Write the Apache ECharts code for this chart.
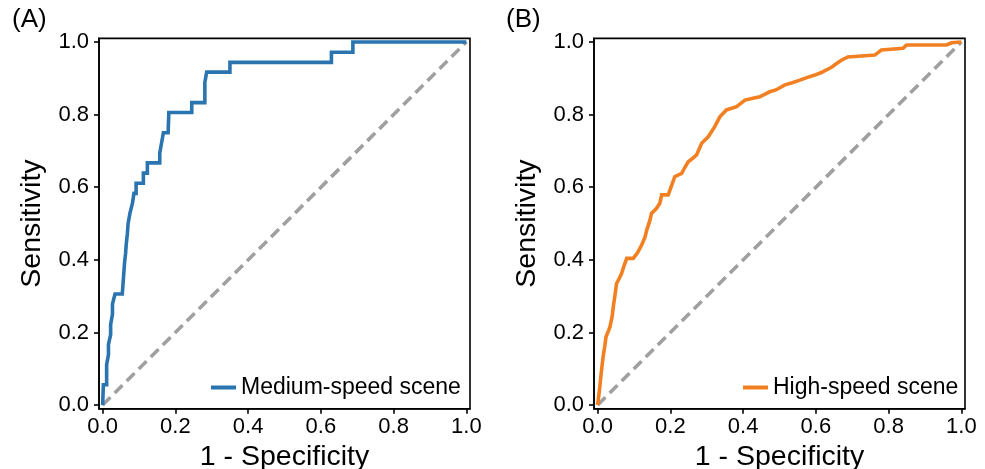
<!DOCTYPE html>
<html>
<head>
<meta charset="utf-8">
<script src="https://cdn.jsdelivr.net/npm/echarts@6/dist/echarts.min.js"></script>
<style>
  html, body { margin: 0; padding: 0; background: #fff; }
  #rocChart { width: 985px; height: 469px; }
</style>
</head>
<body>
<div id="rocChart"></div>
<script>
// tick labels shared by both panels
var tickValues = [0, 0.2, 0.4, 0.6, 0.8, 1.0];

// (A) medium-speed scene ROC points
var fprA = [0, 0.002, 0.011, 0.011, 0.016, 0.016, 0.022, 0.022, 0.027, 0.027, 0.034, 0.054,
  0.056, 0.058, 0.060, 0.063, 0.065, 0.068, 0.070, 0.075, 0.080, 0.082, 0.086, 0.092,
  0.092, 0.112, 0.112, 0.123, 0.123, 0.157, 0.157, 0.162, 0.162, 0.167, 0.167, 0.180,
  0.182, 0.245, 0.245, 0.281, 0.281, 0.286, 0.286, 0.350, 0.350, 0.629, 0.629, 0.688,
  0.688, 1.0];
var tprA = [0, 0.056, 0.056, 0.111, 0.139, 0.167, 0.194, 0.222, 0.250, 0.278, 0.306, 0.306,
  0.333, 0.361, 0.389, 0.417, 0.444, 0.472, 0.500, 0.528, 0.528, 0.556, 0.583, 0.583,
  0.611, 0.611, 0.639, 0.639, 0.667, 0.667, 0.694, 0.694, 0.722, 0.722, 0.750, 0.750,
  0.806, 0.806, 0.833, 0.833, 0.889, 0.889, 0.917, 0.917, 0.944, 0.944, 0.972, 0.972,
  1.0, 1.0];

// (B) high-speed scene ROC points
var fprB = [0, 0.003, 0.006, 0.010, 0.015, 0.020, 0.023, 0.030, 0.034, 0.040, 0.043, 0.048,
  0.052, 0.060, 0.066, 0.073, 0.080, 0.098, 0.110, 0.121, 0.130, 0.135, 0.144, 0.148,
  0.162, 0.171, 0.176, 0.194, 0.203, 0.212, 0.231, 0.240, 0.249, 0.262, 0.272, 0.286,
  0.295, 0.304, 0.322, 0.336, 0.354, 0.382, 0.405, 0.427, 0.446, 0.455, 0.473, 0.490,
  0.515, 0.535, 0.556, 0.575, 0.597, 0.615, 0.629, 0.645, 0.657, 0.670, 0.688, 0.762,
  0.780, 0.840, 0.849, 0.959, 0.973, 1.0];
var tprB = [0, 0.025, 0.050, 0.090, 0.133, 0.165, 0.188, 0.205, 0.216, 0.245, 0.271, 0.305,
  0.335, 0.350, 0.363, 0.385, 0.404, 0.404, 0.420, 0.441, 0.462, 0.482, 0.510, 0.528,
  0.542, 0.556, 0.579, 0.579, 0.604, 0.629, 0.638, 0.655, 0.670, 0.680, 0.689, 0.721,
  0.730, 0.739, 0.767, 0.794, 0.813, 0.822, 0.840, 0.845, 0.849, 0.854, 0.863, 0.868,
  0.882, 0.888, 0.895, 0.902, 0.909, 0.916, 0.923, 0.932, 0.941, 0.950, 0.959, 0.964,
  0.978, 0.983, 0.992, 0.992, 0.998, 1.0];

// chance line
var chanceX = [0, 1];
var chanceY = [0, 1];

var FONT = "'Liberation Sans', Arial, sans-serif";

function zip(xs, ys) {
  var out = [];
  for (var i = 0; i < xs.length; i++) out.push([xs[i], ys[i]]);
  return out;
}

function makeAxis(idx, name, isX) {
  var ax = {
    type: 'value',
    gridIndex: idx,
    min: -0.01,
    max: 1.01,
    name: name,
    nameLocation: 'middle',
    nameGap: isX ? 33 : 52,
    nameTextStyle: { color: '#000', fontSize: 28.5, fontFamily: FONT },
    axisLine: { show: true, onZero: false, lineStyle: { color: '#000', width: 1.6 } },
    axisTick: { show: true, length: 5, customValues: tickValues, lineStyle: { color: '#000', width: 1.6 } },
    axisLabel: {
      customValues: tickValues,
      margin: isX ? 7 : 10,
      color: '#000',
      fontSize: 22,
      fontFamily: FONT,
      formatter: function (v) { return v.toFixed(1); }
    },
    splitLine: { show: false }
  };
  return ax;
}

function rocSeries(name, idx, data, color) {
  return {
    name: name,
    type: 'line',
    xAxisIndex: idx,
    yAxisIndex: idx,
    data: data,
    showSymbol: false,
    symbol: 'none',
    animation: false,
    z: 3,
    lineStyle: { color: color, width: 3.6, join: 'miter' },
    itemStyle: { color: color }
  };
}

function chanceSeries(idx) {
  return {
    type: 'line',
    xAxisIndex: idx,
    yAxisIndex: idx,
    data: zip(chanceX, chanceY),
    showSymbol: false,
    symbol: 'none',
    animation: false,
    z: 2,
    lineStyle: { color: '#a0a0a0', width: 3.6, type: [11, 6] }
  };
}

var chart = echarts.init(document.getElementById('rocChart'), null, { renderer: 'canvas' });

var option = {
  backgroundColor: '#fff',
  animation: false,
  textStyle: { fontFamily: FONT },
  title: [
    { text: '(A)', left: 12, top: 7, padding: 0, textStyle: { color: '#000', fontSize: 26, fontWeight: 'normal', fontFamily: FONT } },
    { text: '(B)', left: 506, top: 7, padding: 0, textStyle: { color: '#000', fontSize: 26, fontWeight: 'normal', fontFamily: FONT } }
  ],
  grid: [
    { left: 99, top: 38.4, width: 371, height: 370.3, show: true, borderColor: '#000', borderWidth: 1.6, outerBoundsMode: 'none', containLabel: false },
    { left: 594, top: 38.4, width: 371, height: 370.3, show: true, borderColor: '#000', borderWidth: 1.6, outerBoundsMode: 'none', containLabel: false }
  ],
  xAxis: [
    makeAxis(0, '1 - Specificity', true),
    makeAxis(1, '1 - Specificity', true)
  ],
  yAxis: [
    makeAxis(0, 'Sensitivity', false),
    makeAxis(1, 'Sensitivity', false)
  ],
  legend: [
    {
      data: ['Medium-speed scene'], left: 211, top: 376, padding: 0,
      icon: 'rect', itemWidth: 25, itemHeight: 4,
      textStyle: { color: '#000', fontSize: 23, fontFamily: FONT }
    },
    {
      data: ['High-speed scene'], left: 743, top: 376, padding: 0,
      icon: 'rect', itemWidth: 25, itemHeight: 4,
      textStyle: { color: '#000', fontSize: 23, fontFamily: FONT }
    }
  ],
  series: [
    chanceSeries(0),
    rocSeries('Medium-speed scene', 0, zip(fprA, tprA), '#2a74b0'),
    chanceSeries(1),
    rocSeries('High-speed scene', 1, zip(fprB, tprB), '#f28022')
  ]
};

chart.setOption(option);
window.addEventListener('resize', function () { chart.resize(); });
</script>
</body>
</html>
